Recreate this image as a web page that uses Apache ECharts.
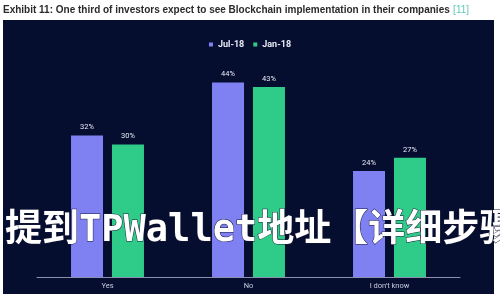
<!DOCTYPE html>
<html><head><meta charset="utf-8">
<script src="https://cdn.jsdelivr.net/npm/echarts@6/dist/echarts.min.js"></script>
<style>html,body{margin:0;padding:0;background:#fff}#c{width:500px;height:300px}</style>
</head><body><div id="c"></div>
<script>
const categories = ['Yes', 'No', "I don't know"];
const seriesNames = ['Jul-18', 'Jan-18'];
const jul18 = [32, 44, 24];
const jan18 = [30, 43, 27];
const titleText = 'Exhibit 11: One third of investors expect to see Blockchain implementation in their companies';
const titleRef = '[11]';
const overlayText = '提到TPWallet地址【详细步骤';

const chart = echarts.init(document.getElementById('c'), null, {renderer: 'canvas'});
const labelCfg = {show: true, position: 'top', color: '#e8eaf5', fontSize: 7.5, distance: 4,
  formatter: p => p.value + '%', fontFamily: 'Roboto'};
chart.setOption({
  backgroundColor: '#ffffff',
  animation: false,
  graphic: [
    {type: 'rect', z: -10, shape: {x: 3, y: 20, width: 491, height: 274}, style: {fill: '#060e30'}},
    {type: 'text', left: 3, top: 4, style: {
      text: '{a|' + titleText + '} {b|' + titleRef + '}',
      rich: {a: {fontSize: 10, fontWeight: 'bold', fill: '#2a2a2a', fontFamily: 'Liberation Sans'},
             b: {fontSize: 10, fill: '#5cc9b5', fontFamily: 'Liberation Sans'}}}},
    {type: 'text', z: 100, x: 5, y: 231, style: {
      text: overlayText, fontSize: 37, fontWeight: 'bold', fill: '#ffffff',
      fontFamily: 'DejaVu Sans Mono, Noto Sans CJK SC', verticalAlign: 'middle',
      stroke: '#1a1a3a', lineWidth: 1}}
  ],
  legend: {top: 35, left: 'center', itemWidth: 4, itemHeight: 4, itemGap: 9, icon: 'rect',
    textStyle: {color: '#e8eaf5', fontSize: 9, fontWeight: 'bold', fontFamily: 'Roboto'}, data: seriesNames},
  grid: {left: 37, right: 40, top: 56, bottom: 23},
  xAxis: {type: 'category', data: categories,
    axisLine: {lineStyle: {color: '#8a90b0', width: 1}}, axisTick: {show: false},
    axisLabel: {color: '#c8cce0', fontSize: 7.5, margin: 5, fontFamily: 'Roboto'}},
  yAxis: {type: 'value', min: 0, max: 50, show: false, splitLine: {show: false}},
  series: [
    {name: seriesNames[0], type: 'bar', data: jul18, barWidth: 32, barGap: '28%',
      itemStyle: {color: '#7f80f2'}, label: labelCfg},
    {name: seriesNames[1], type: 'bar', data: jan18, barWidth: 32,
      itemStyle: {color: '#2fcb88'}, label: labelCfg}
  ]
});
</script></body></html>
